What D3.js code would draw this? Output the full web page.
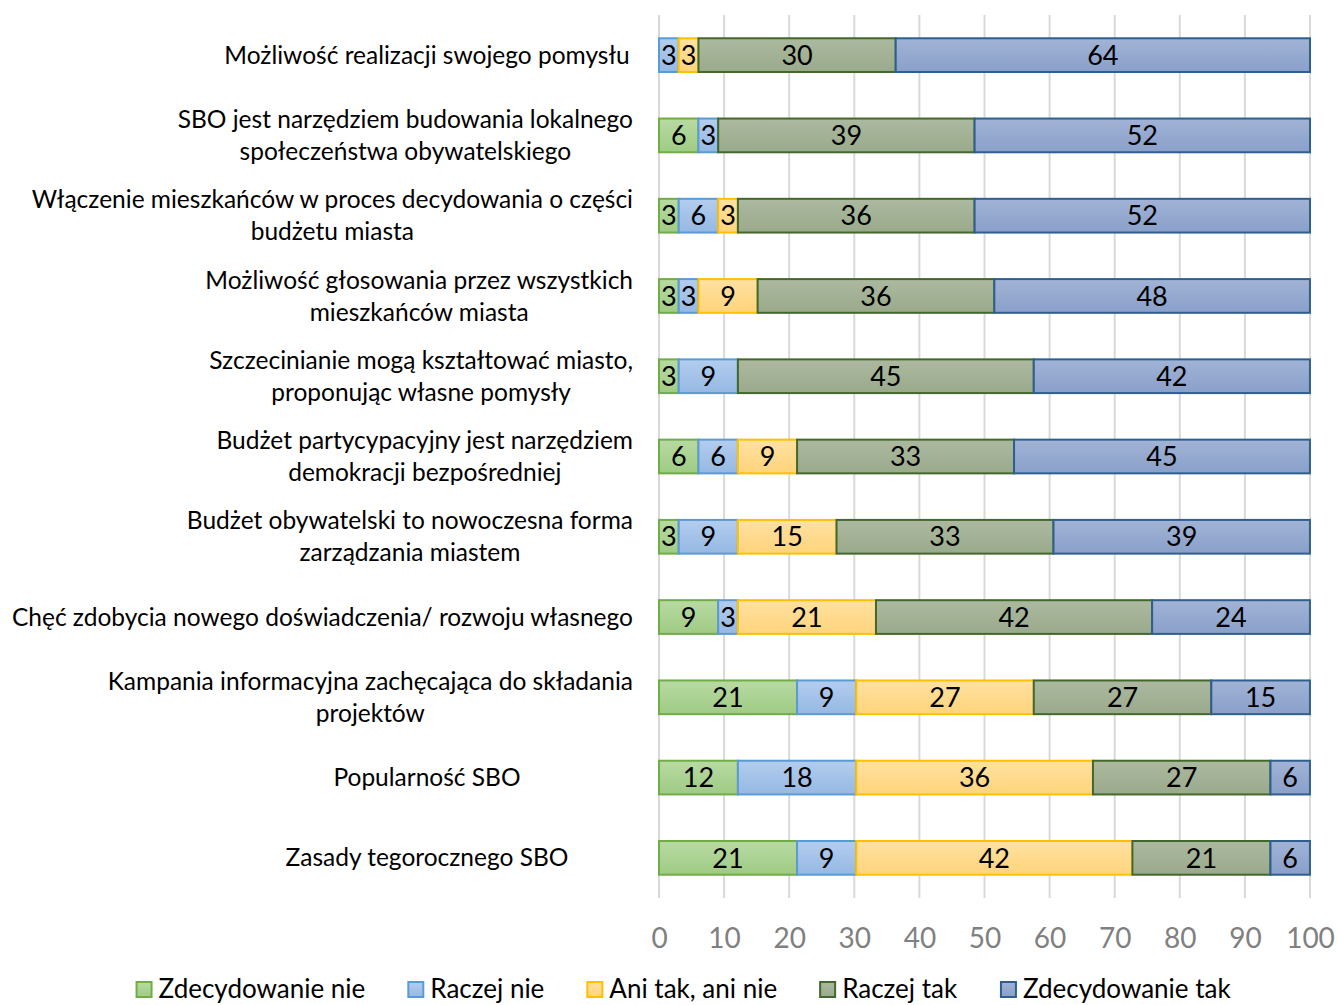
<!DOCTYPE html>
<html>
<head>
<meta charset="utf-8">
<script src="https://cdn.jsdelivr.net/npm/d3@7"></script>
<style>
  body { margin: 0; background: #fff; }
  svg { font-family: Lato, "Open Sans", sans-serif; }
</style>
</head>
<body>
<svg width="1338" height="1005"></svg>
<script>
// categories, top to bottom (lines split where the original wraps)
let categories = [
  ["Możliwość realizacji swojego pomysłu"],
  ["SBO jest narzędziem budowania lokalnego", "społeczeństwa obywatelskiego"],
  ["Włączenie mieszkańców w proces decydowania o części", "budżetu miasta"],
  ["Możliwość głosowania przez wszystkich", "mieszkańców miasta"],
  ["Szczecinianie mogą kształtować miasto,", "proponując własne pomysły"],
  ["Budżet partycypacyjny jest narzędziem", "demokracji bezpośredniej"],
  ["Budżet obywatelski to nowoczesna forma", "zarządzania miastem"],
  ["Chęć zdobycia nowego doświadczenia/ rozwoju własnego"],
  ["Kampania informacyjna zachęcająca do składania", "projektów"],
  ["Popularność SBO"],
  ["Zasady tegorocznego SBO"]
];

let series = ["Zdecydowanie nie", "Raczej nie", "Ani tak, ani nie", "Raczej tak", "Zdecydowanie tak"];

// percent values per series (one per category, same order)
let zdecydowanieNie = [0, 6.06, 3.03, 3.03, 3.03, 6.06, 3.03, 9.09, 21.21, 12.12, 21.21];
let raczejNie       = [3.03, 3.03, 6.06, 3.03, 9.09, 6.06, 9.09, 3.03, 9.09, 18.18, 9.09];
let aniTakAniNie    = [3.03, 0, 3.03, 9.09, 0, 9.09, 15.15, 21.21, 27.27, 36.36, 42.42];
let raczejTak       = [30.30, 39.39, 36.36, 36.36, 45.45, 33.33, 33.33, 42.42, 27.27, 27.27, 21.21];
let zdecydowanieTak = [63.64, 51.52, 51.52, 48.48, 42.42, 45.45, 39.39, 24.24, 15.15, 6.06, 6.06];

let xTicks = [0, 10, 20, 30, 40, 50, 60, 70, 80, 90, 100];

let fills = [
  ["#b8daa3", "#9fcb84"],
  ["#b3cdee", "#95b8e3"],
  ["#ffe1a0", "#ffd47c"],
  ["#acb9a0", "#9aaa8b"],
  ["#a1b3d6", "#8aa0c9"]
];
let strokes = ["#70ad47", "#5b9bd5", "#ffc000", "#43682b", "#2e5f8f"];

let svg = d3.select("svg");
let margin = { top: 15, right: 28, bottom: 107, left: 659 };
let width = 1338 - margin.left - margin.right;
let height = 1005 - margin.top - margin.bottom;

let rows = categories.map((c, i) => ({
  label: c,
  values: [zdecydowanieNie[i], raczejNie[i], aniTakAniNie[i], raczejTak[i], zdecydowanieTak[i]]
}));

var xScale = d3.scaleLinear().domain([0, 100]).range([0, width]);
var yScale = d3.scaleBand()
  .domain(d3.range(rows.length))
  .range([0, height])
  .paddingInner(0.58)
  .paddingOuter(0.29);

// gradients
let defs = svg.append("defs");
fills.forEach((f, i) => {
  let g = defs.append("linearGradient")
    .attr("id", "grad" + i)
    .attr("x1", 0).attr("y1", 0).attr("x2", 0).attr("y2", 1);
  g.append("stop").attr("offset", "0%").attr("stop-color", f[0]);
  g.append("stop").attr("offset", "100%").attr("stop-color", f[1]);
});

let chart = svg.append("g")
  .attr("transform", "translate(" + margin.left + "," + margin.top + ")");

// grid lines
chart.append("g")
  .selectAll("line")
  .data(xTicks)
  .enter()
  .append("line")
  .attr("x1", d => xScale(d))
  .attr("x2", d => xScale(d))
  .attr("y1", 0)
  .attr("y2", height)
  .attr("stroke", "#d9d9d9")
  .attr("stroke-width", 2);

// x axis labels
let xAxis = d3.axisBottom(xScale).tickValues(xTicks).tickSize(0).tickPadding(30);
let gx = chart.append("g")
  .attr("transform", "translate(0," + height + ")")
  .call(xAxis);
gx.select(".domain").remove();
gx.selectAll("text")
  .attr("font-family", "Lato, sans-serif")
  .attr("font-size", 28)
  .attr("fill", "#808080");

// stacked bars
let stacked = rows.map((r, i) => {
  let acc = 0;
  return r.values.map((v, k) => {
    let seg = { row: i, k: k, x0: acc, x1: acc + v, v: v };
    acc += v;
    return seg;
  });
});

let rowG = chart.selectAll(".row")
  .data(stacked)
  .enter()
  .append("g")
  .attr("class", "row");

let segs = rowG.selectAll(".seg")
  .data(d => d.filter(s => s.v > 0))
  .enter()
  .append("g")
  .attr("class", "seg");

segs.append("rect")
  .attr("x", d => xScale(d.x0))
  .attr("y", d => yScale(d.row))
  .attr("width", d => xScale(d.x1) - xScale(d.x0))
  .attr("height", yScale.bandwidth())
  .attr("fill", d => "url(#grad" + d.k + ")")
  .attr("stroke", d => strokes[d.k])
  .attr("stroke-width", 2);

segs.append("text")
  .attr("x", d => (xScale(d.x0) + xScale(d.x1)) / 2)
  .attr("y", d => yScale(d.row) + yScale.bandwidth() / 2)
  .attr("dy", "0.36em")
  .attr("text-anchor", "middle")
  .attr("font-size", 27)
  .attr("fill", "#000")
  .text(d => Math.round(d.v));

// category labels: right aligned block, wrapped lines centred on each other
let labelRight = 633;
let minBlock = 412;
let lineH = 32;
let labG = svg.append("g").attr("font-size", 24.5).attr("fill", "#000");
rows.forEach((r, i) => {
  let cy = margin.top + yScale(i) + yScale.bandwidth() / 2;
  let t = labG.append("text").attr("text-anchor", "middle");
  let n = r.label.length;
  r.label.forEach((ln, j) => {
    t.append("tspan")
      .attr("x", 0)
      .attr("y", cy + (j - (n - 1) / 2) * lineH)
      .attr("dy", "0.35em")
      .text(ln);
  });
  let w = t.node().getBBox().width;
  let cx = labelRight - Math.max(w, minBlock) / 2;
  t.selectAll("tspan").attr("x", cx);
});

// legend
let legend = svg.append("g").attr("font-size", 26);
let items = legend.selectAll(".item")
  .data(series)
  .enter()
  .append("g")
  .attr("class", "item");
items.append("rect")
  .attr("width", 15)
  .attr("height", 15)
  .attr("y", -7)
  .attr("fill", (d, i) => "url(#grad" + i + ")")
  .attr("stroke", (d, i) => strokes[i])
  .attr("stroke-width", 2);
items.append("text")
  .attr("x", 22)
  .attr("dy", "0.36em")
  .text(d => d);
let lx = 0;
let pos = [];
items.each(function() {
  pos.push(lx);
  lx += this.getBBox().width + 43;
});
lx -= 43;
let start = 684 - lx / 2;
items.attr("transform", (d, i) => "translate(" + (start + pos[i]) + ",989)");
</script>
</body>
</html>
